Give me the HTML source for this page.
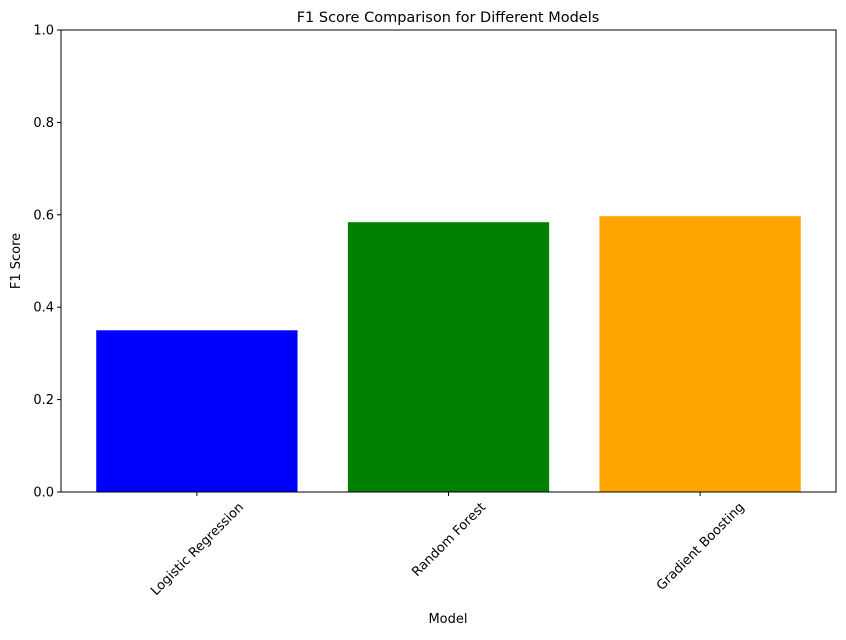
<!DOCTYPE html>
<html><head><meta charset="utf-8"><style>
body{margin:0;background:#fff;}
svg{font-family:"DejaVu Sans","Liberation Sans",sans-serif;}
</style></head><body>
<svg id="chart" width="846" height="635" viewBox="0 0 846 635">
<rect width="846" height="635" fill="#fff"/>
<text x="448" y="22" text-anchor="middle" font-size="14.5">F1 Score Comparison for Different Models</text>
<g id="bars"></g>
<g id="yaxis"></g>
<g id="xaxis"></g>
<rect x="61" y="30" width="775" height="462" fill="none" stroke="#000" stroke-width="1"/>
<text x="448" y="623" text-anchor="middle" font-size="13">Model</text>
<text transform="translate(20,261) rotate(-90)" text-anchor="middle" font-size="13">F1 Score</text>
</svg>
<script>
const categories = ["Logistic Regression","Random Forest","Gradient Boosting"];
const values = [0.35, 0.584, 0.597];
const colors = ["blue","green","orange"];
const yTicks = [0,0.2,0.4,0.6,0.8,1.0];
const yTickLabels = ["0.0","0.2","0.4","0.6","0.8","1.0"];

const NS="http://www.w3.org/2000/svg";
const L=61,R=836,T=30,B=492;
const xMin=-0.54,xMax=2.54;
function xs(v){return L+(v-xMin)/(xMax-xMin)*(R-L);}
function ys(v){return B-v*(B-T);}
function mk(tag,attrs,parent){const e=document.createElementNS(NS,tag);for(const k in attrs)e.setAttribute(k,attrs[k]);parent.appendChild(e);return e;}
const bars=document.getElementById('bars'),ya=document.getElementById('yaxis'),xa=document.getElementById('xaxis');
const bw=0.8*(xs(1)-xs(0));
categories.forEach((c,i)=>{
  const cx=xs(i);
  const r=mk('rect',{x:cx-bw/2,y:ys(values[i]),width:bw,height:ys(0)-ys(values[i]),fill:colors[i]},bars);
  
  
  const t=mk('line',{x1:cx,x2:cx,y1:B,y2:B+4,stroke:'#000'},xa);
  
  
  const lb=mk('text',{'text-anchor':'middle','font-size':'13'},xa);
  lb.textContent=c;
  
  
  const len=lb.getComputedTextLength();
  const h=(len+13)*Math.SQRT1_2;
  const cy=B+8+h/2;
  lb.setAttribute('transform',`translate(${cx},${cy}) rotate(-45) translate(0,4.5)`);
});
yTicks.forEach((v,i)=>{
  const y=ys(v);
  const t=mk('line',{x1:L-4,x2:L,y1:y,y2:y,stroke:'#000'},ya);
  
  
  const lb=mk('text',{x:L-7,y:y+4.5,'text-anchor':'end','font-size':'13'},ya);
  lb.textContent=yTickLabels[i];
  
  
});
</script>
</body></html>
